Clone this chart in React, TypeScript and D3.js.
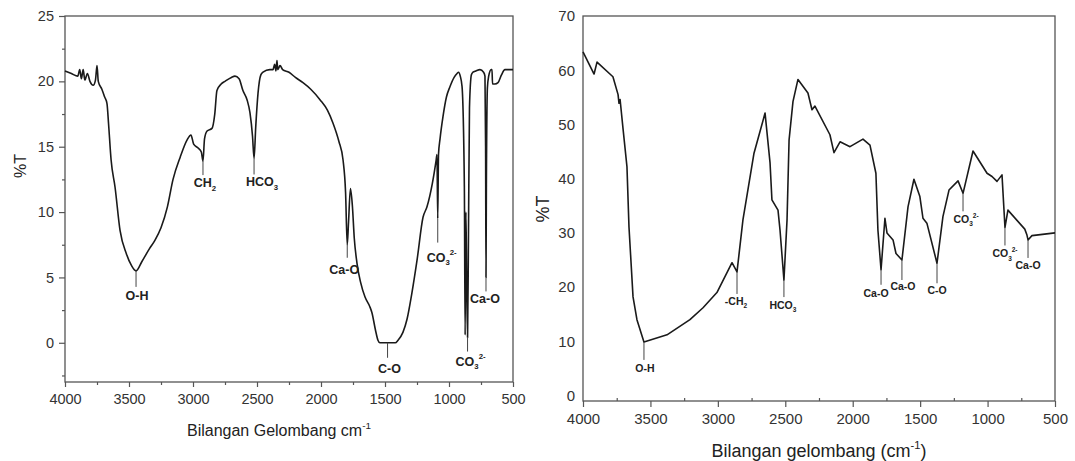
import React, { useEffect, useRef } from 'react';
import * as d3 from 'd3';

// Left spectrum: [wavenumber (cm-1), %T]
const leftSpectrum: [number, number][] = [
  [4000, 20.8], [3950, 20.6], [3900, 20.4], [3885, 20.9], [3872, 20.2], [3858, 20.9], [3845, 20.1],
  [3825, 20.6], [3805, 20.0], [3780, 19.7], [3762, 20.1], [3750, 21.2], [3740, 20.0], [3712, 19.4],
  [3690, 18.8], [3672, 18.3], [3660, 16.8], [3640, 14.0], [3609, 11.9], [3570, 8.6], [3520, 6.8],
  [3480, 5.9], [3445, 5.5], [3400, 6.2], [3340, 7.2], [3300, 7.8], [3250, 8.8], [3200, 10.4],
  [3156, 12.5], [3100, 14.2], [3047, 15.5], [3016, 15.9], [2995, 15.2], [2960, 14.9], [2935, 14.6],
  [2922, 13.9], [2910, 15.6], [2890, 16.2], [2852, 16.4], [2830, 17.5], [2813, 19.3], [2780, 19.8],
  [2750, 20.0], [2700, 20.3], [2672, 20.4], [2640, 20.2], [2610, 19.3], [2578, 18.6], [2555, 17.6],
  [2535, 15.8], [2523, 14.1], [2510, 16.5], [2492, 19.1], [2470, 20.5], [2453, 20.7], [2400, 20.9],
  [2375, 20.9], [2362, 21.3], [2352, 20.8], [2344, 21.6], [2338, 20.9], [2320, 21.2], [2300, 20.9],
  [2250, 20.7], [2200, 20.3], [2141, 19.9], [2080, 19.4], [2008, 18.6], [1950, 17.8], [1906, 16.8],
  [1860, 15.4], [1828, 14.0], [1808, 11.5], [1795, 7.5], [1785, 9.2], [1770, 11.8], [1755, 10.5],
  [1740, 8.0], [1719, 6.1], [1690, 4.6], [1656, 3.5], [1620, 2.8], [1602, 2.3], [1575, 1.0],
  [1555, 0.2], [1540, 0], [1420, 0], [1398, 0.2], [1360, 0.8], [1328, 1.8], [1290, 3.8],
  [1250, 6.3], [1203, 9.6], [1172, 10.4], [1130, 12.2], [1100, 14.0], [1094, 14.4], [1088, 9.5],
  [1082, 14.4], [1070, 15.6], [1047, 17.3], [1020, 18.8], [992, 19.6], [960, 20.3], [937, 20.6],
  [925, 20.7], [912, 20.4], [898, 19.6], [880, 12], [874, 0.6], [868, 10], [862, 5], [855, 0.4],
  [848, 8], [840, 18], [825, 20.5], [813, 20.7], [790, 20.8], [758, 20.9], [730, 20.7], [719, 20.4],
  [714, 15], [711, 5.0], [708, 12], [700, 19.5], [690, 20.4], [670, 20.9], [664, 20.9], [660, 19.8],
  [641, 19.8], [617, 19.9], [590, 20.5], [563, 20.9], [500, 20.9],
];

// Right spectrum: [wavenumber (cm-1), %T]
const rightSpectrum: [number, number][] = [
  [4000, 63.4], [3918, 59.3], [3896, 61.5], [3778, 58.8], [3740, 55.5], [3733, 53.9], [3725, 54.6],
  [3704, 49.4], [3674, 42.2], [3659, 31.1], [3629, 18.2], [3600, 14.0], [3548, 9.9], [3377, 11.2],
  [3207, 14.0], [3110, 16.2], [3007, 19.0], [2895, 24.5], [2858, 22.8], [2814, 32.4], [2732, 44.7],
  [2650, 52.1], [2613, 42.9], [2599, 36.1], [2554, 34.2], [2539, 30.5], [2510, 21.3], [2487, 32.4],
  [2472, 47.1], [2443, 54.2], [2406, 58.3], [2332, 55.8], [2302, 52.7], [2280, 53.4], [2169, 48.1],
  [2139, 44.8], [2094, 46.8], [2020, 45.9], [1924, 47.3], [1872, 46.2], [1828, 41.0], [1813, 30.5],
  [1790, 23.2], [1761, 32.7], [1746, 30.0], [1701, 28.7], [1679, 26.2], [1635, 25.0], [1590, 34.8],
  [1546, 39.9], [1502, 36.7], [1479, 32.7], [1450, 31.8], [1375, 24.4], [1331, 33.0], [1286, 37.9],
  [1219, 39.6], [1182, 37.3], [1108, 45.1], [1004, 41.0], [967, 40.4], [930, 39.5], [893, 40.7],
  [871, 31.0], [849, 34.2], [724, 30.7], [708, 29.6], [700, 28.7], [671, 29.5], [500, 30.0],
];

// Band assignments (label syntax: base_sub^sup)
const leftPeaks = [
  { wn: 3445, t: 5.5, label: 'O-H' },
  { wn: 2922, t: 13.9, label: 'CH_2' },
  { wn: 2523, t: 14.1, label: 'HCO_3' },
  { wn: 1795, t: 7.5, label: 'Ca-O' },
  { wn: 1480, t: 0, label: 'C-O' },
  { wn: 1088, t: 9.5, label: 'CO_3^2-' },
  { wn: 711, t: 5.0, label: 'Ca-O' },
  { wn: 855, t: 0.4, label: 'CO_3^2-' },
];
const rightPeaks = [
  { wn: 3548, t: 9.9, label: 'O-H' },
  { wn: 2858, t: 22.8, label: '-CH_2' },
  { wn: 2510, t: 21.3, label: 'HCO_3' },
  { wn: 1790, t: 23.2, label: 'Ca-O' },
  { wn: 1635, t: 25.0, label: 'Ca-O' },
  { wn: 1375, t: 24.4, label: 'C-O' },
  { wn: 1182, t: 37.3, label: 'CO_3^2-' },
  { wn: 871, t: 31.0, label: 'CO_3^2-' },
  { wn: 700, t: 28.7, label: 'Ca-O' },
];

const xTicks = [4000, 3500, 3000, 2500, 2000, 1500, 1000, 500];
const xMinorTicks = [3750, 3250, 2750, 2250, 1750, 1250, 750];
const leftYTicks = [0, 5, 10, 15, 20, 25];
const leftYMinorTicks = [-2.5, 2.5, 7.5, 12.5, 17.5, 22.5];
const rightYTicks = [0, 10, 20, 30, 40, 50, 60, 70];

// annotation layout: [leader length, label dx, label dy]
const leftLayout = [[16, 1, 29], [14, 2, 26], [16, 8, 28], [13, -3, 29], [15, 2, 30], [24, 4, 43], [14, -1, 26], [14, 3, 28]];
const rightLayout = [[18, 1, 30], [22, -1, 33], [17, -1, 29], [15, -5, 27], [20, 1, 30], [20, 0, 31], [18, 3, 30], [18, 0, 30], [18, 0, 29]];

const FONT = '"Liberation Sans", Arial, sans-serif';

const addLabel = (text, label, fs) => {
  const m = label.match(/^([^_^]+)(?:_([^^]+))?(?:\^(.+))?$/);
  text.append('tspan').text(m[1]);
  if (m[2]) text.append('tspan').attr('font-size', fs * 0.62).attr('dy', fs * 0.3).text(m[2]);
  if (m[3]) text.append('tspan').attr('font-size', fs * 0.62).attr('dy', -fs * 0.8).text(m[3]);
};

const App = () => {
  const svgRef = useRef(null);

  useEffect(() => {
    if (!svgRef.current) return;
    const svg = d3.select(svgRef.current);
    svg.selectAll('*').remove();

    const drawPanel = (cfg) => {
      const x = d3.scaleLinear().domain([4000, 500]).range(cfg.xRange);
      const y = d3.scaleLinear().domain(cfg.yDomain).range(cfg.yRange);
      const g = svg.append('g');
      const [x0, x1] = cfg.xRange;
      const [y0, y1] = cfg.yRange;

      // x axis
      const xa = g.append('g').attr('transform', `translate(0,${y0})`)
        .call(d3.axisBottom(x).tickValues(xTicks).tickSize(cfg.xTickSize).tickSizeOuter(0).tickPadding(cfg.xPad).tickFormat(d3.format('d')));
      xa.select('.domain').remove();
      xa.selectAll('text').attr('font-size', cfg.tickFont).attr('font-family', FONT).attr('fill', '#333');
      xa.selectAll('line').attr('stroke', '#555').attr('stroke-width', 1.2);
      const xm = g.append('g').attr('transform', `translate(0,${y0})`)
        .call(d3.axisBottom(x).tickValues(xMinorTicks).tickSize(cfg.xMinorSize).tickSizeOuter(0).tickFormat(() => ''));
      xm.select('.domain').remove();
      xm.selectAll('line').attr('stroke', '#555').attr('stroke-width', 1.2);

      // y axis
      const ya = g.append('g').attr('transform', `translate(${x0},0)`)
        .call(d3.axisLeft(y).tickValues(cfg.yTicks).tickSize(cfg.yTickSize).tickSizeOuter(0).tickPadding(cfg.yPad));
      ya.select('.domain').remove();
      ya.selectAll('text').attr('font-size', cfg.tickFont).attr('font-family', FONT).attr('fill', '#333');
      ya.selectAll('line').attr('stroke', '#555').attr('stroke-width', 1.2);
      if (cfg.yMinor) {
        const ym = g.append('g').attr('transform', `translate(${x0},0)`)
          .call(d3.axisLeft(y).tickValues(cfg.yMinor).tickSize(3).tickSizeOuter(0).tickFormat(() => ''));
        ym.select('.domain').remove();
        ym.selectAll('line').attr('stroke', '#555').attr('stroke-width', 1.2);
      }

      // frame
      g.append('rect')
        .attr('x', x0).attr('y', y1).attr('width', x1 - x0).attr('height', y0 - y1)
        .attr('fill', 'none').attr('stroke', '#555').attr('stroke-width', 1.3);

      // spectrum
      const line = d3.line().x(d => x(d[0])).y(d => y(d[1])).curve(cfg.curve);
      g.append('path')
        .datum(cfg.data)
        .attr('d', line)
        .attr('fill', 'none')
        .attr('stroke', '#1a1a1a')
        .attr('stroke-width', 1.6)
        .attr('stroke-linejoin', 'round');

      // band labels
      cfg.peaks.forEach((p, i) => {
        const [len, dx, dy] = cfg.layout[i];
        const px = x(p.wn);
        const py = y(p.t);
        g.append('line')
          .attr('x1', px).attr('x2', px).attr('y1', py).attr('y2', py + len)
          .attr('stroke', '#444').attr('stroke-width', 1);
        const t = g.append('text')
          .attr('x', px + dx).attr('y', py + dy)
          .attr('text-anchor', 'middle')
          .attr('font-family', FONT)
          .attr('font-weight', 'bold')
          .attr('font-size', cfg.labelFont)
          .attr('fill', '#222');
        addLabel(t, p.label, cfg.labelFont);
      });

      // axis titles
      const xt = g.append('text')
        .attr('x', cfg.xTitle[0]).attr('y', cfg.xTitle[1])
        .attr('text-anchor', 'middle')
        .attr('font-family', FONT)
        .attr('font-size', cfg.titleFont)
        .attr('fill', '#222');
      xt.append('tspan').text(cfg.xTitleText[0]);
      xt.append('tspan').attr('font-size', cfg.titleFont * 0.62).attr('dy', -cfg.titleFont * 0.45).text('-1');
      if (cfg.xTitleText[1]) xt.append('tspan').attr('dy', cfg.titleFont * 0.45).text(cfg.xTitleText[1]);

      g.append('text')
        .attr('transform', `translate(${cfg.yTitle[0]},${cfg.yTitle[1]}) rotate(-90)`)
        .attr('text-anchor', 'middle')
        .attr('dominant-baseline', 'central')
        .attr('font-family', FONT)
        .attr('font-size', cfg.titleFont)
        .attr('fill', '#222')
        .text('%T');
    };

    drawPanel({
      data: leftSpectrum,
      peaks: leftPeaks,
      layout: leftLayout,
      xRange: [65, 513],
      yDomain: [-3, 25],
      yRange: [382, 16],
      yTicks: leftYTicks,
      yMinor: leftYMinorTicks,
      xTickSize: 5, xMinorSize: 3, xPad: 7,
      yTickSize: 6, yPad: 5,
      tickFont: 14.5,
      labelFont: 12.5,
      titleFont: 16,
      curve: d3.curveMonotoneX,
      xTitle: [279, 436],
      xTitleText: ['Bilangan Gelombang cm', null],
      yTitle: [20, 166],
    });

    drawPanel({
      data: rightSpectrum,
      peaks: rightPeaks,
      layout: rightLayout,
      xRange: [583, 1055],
      yDomain: [-1, 70],
      yRange: [401, 16],
      yTicks: rightYTicks,
      yMinor: null,
      xTickSize: 6, xMinorSize: -3, xPad: 6,
      yTickSize: 0, yPad: 8,
      tickFont: 15,
      labelFont: 10.5,
      titleFont: 18,
      curve: d3.curveLinear,
      xTitle: [819, 457],
      xTitleText: ['Bilangan gelombang (cm', ')'],
      yTitle: [543, 209],
    });
  }, []);

  return (
    <div style={{ position: 'absolute', left: 0, top: 0 }}>
      <svg ref={svgRef} width={1075} height={461} style={{ display: 'block', background: '#fff' }}></svg>
    </div>
  );
};

export default App;
